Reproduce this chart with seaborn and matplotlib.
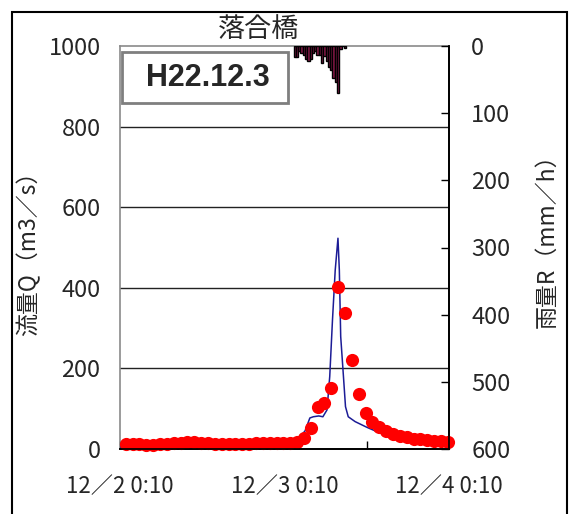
import numpy as np
import pandas as pd
import seaborn as sns
import matplotlib
matplotlib.use("Agg")
import matplotlib.pyplot as plt
from matplotlib.patches import Rectangle

# ---------------- data ----------------
# observed discharge (hourly, hours since 12/2 0:10)
obs_hours = [k - 1/6 for k in range(1, 49)]
obs_flow = [12, 13, 12, 11, 11, 12, 12, 14, 16, 17, 17, 16, 15, 13,
            12, 12, 12, 12, 13, 14, 15, 16, 16, 15, 15, 18,
            27, 52, 103, 114, 152, 402, 338, 222, 136, 89,
            68, 55, 45, 38, 33, 29, 26, 24, 22, 21, 20, 18]

# simulated discharge
sim_hours = [0, 4, 8, 12, 16, 20, 24, 25.5, 26.0, 26.5, 27.0, 27.7, 28.2,
             29.0, 29.6, 30.2, 30.6, 31.0, 31.4, 31.8, 32.0, 32.2, 32.6,
             32.9, 33.3, 34.3, 36.0, 37.9, 40.9, 44.0, 48.0]
sim_flow = [5, 5, 6, 6, 5, 5, 6, 7, 12, 35, 45, 77, 80,
            82, 80, 97, 180, 320, 444, 523, 444, 279, 180,
            105, 80, 68, 54, 40, 27, 18, 10]

# rainfall (20-min blocks)
rain_start = [25.33 + i / 3 for i in range(23)]
rain_mm = [16, 16, 8, 10, 13, 20, 23, 20, 10, 8, 13, 13, 25, 15,
           23, 31, 35, 47, 53, 70, 4, 0, 3]

x_tick_pos = [0, 24, 48]
x_tick_labels = ["12／2 0:10", "12／3 0:10", "12／4 0:10"]
q_ticks = [0, 200, 400, 600, 800, 1000]
r_ticks = [0, 100, 200, 300, 400, 500, 600]

title = "落合橋"
event_label = "H22.12.3"

# ---------------- style ----------------
sns.set_theme(style="white")
plt.rcParams["font.family"] = ["Noto Sans CJK JP", "DejaVu Sans"]

fig = plt.figure(figsize=(5.69, 5.14), dpi=100)
ax = fig.add_axes([120/569, 1 - 449/514, 329/569, 403/514])

# outer border of figure
fig.patches.append(Rectangle((12/569, -0.01), 555/569, 1 - 12/514 + 0.01,
                             transform=fig.transFigure, fill=False,
                             edgecolor="black", linewidth=1.5, zorder=0))

df_obs = pd.DataFrame({"t": obs_hours, "q": obs_flow})
df_sim = pd.DataFrame({"t": sim_hours, "q": sim_flow})

sns.lineplot(data=df_sim, x="t", y="q", ax=ax, color="#1c1c96",
             linewidth=1.1, zorder=3)
sns.scatterplot(data=df_obs, x="t", y="q", ax=ax, color="#ff0000", s=90,
                linewidth=0, zorder=4, clip_on=False)

ax.set_xlim(0, 48)
ax.set_ylim(0, 1000)
ax.set_yticks(q_ticks)
ax.set_xticks(x_tick_pos)
ax.set_xticklabels(x_tick_labels)
ax.set_xticks([12, 36], minor=True)
ax.set_xlabel("")
ax.set_ylabel("")
for yv in q_ticks[1:-1]:
    ax.axhline(yv, color="#222222", linewidth=1.0, zorder=1)

ax.tick_params(axis="y", length=0, pad=14, labelsize=17)
ax.tick_params(axis="x", which="both", direction="in", length=6,
               width=1, color="black", pad=19, labelsize=16, bottom=True)

for side in ["left", "top"]:
    ax.spines[side].set_color("#8a8a8a")
    ax.spines[side].set_linewidth(1.2)
ax.spines["bottom"].set_color("black")
ax.spines["right"].set_color("black")

# rainfall on twin axis
ax2 = ax.twinx()
ax2.bar(rain_start, rain_mm, width=1/3, align="edge", color="#8b1a4a",
        edgecolor="black", linewidth=1.0, zorder=2)
ax2.set_ylim(600, 0)
ax2.set_yticks(r_ticks)
ax2.tick_params(axis="y", direction="in", length=6, width=1, color="black",
                pad=16, labelsize=17, right=True)
for side in ["left", "top"]:
    ax2.spines[side].set_visible(False)
ax2.spines["right"].set_color("black")
ax2.spines["bottom"].set_color("black")

# axis labels
ax.text(-0.28, 0.50, "流量Q（m3／s）", transform=ax.transAxes, rotation=90,
        ha="center", va="center", fontsize=16.5)
ax.text(1.298, 0.53, "雨量R（mm／h）", transform=ax.transAxes, rotation=90,
        ha="center", va="center", fontsize=16.5)

# title
ax.text(0.42, 1.04, title, transform=ax.transAxes, ha="center",
        va="center", fontsize=19.5)

# event label box
ax.add_patch(Rectangle((0.006, 0.859), 0.505, 0.126, transform=ax.transAxes,
                       facecolor="white", edgecolor="#7f7f7f", linewidth=2,
                       zorder=5))
ax.text(0.268, 0.921, event_label, transform=ax.transAxes, ha="center",
        va="center", fontsize=22, fontweight="bold",
        family="Liberation Sans", zorder=6)

fig.savefig("out.png", dpi=100)
